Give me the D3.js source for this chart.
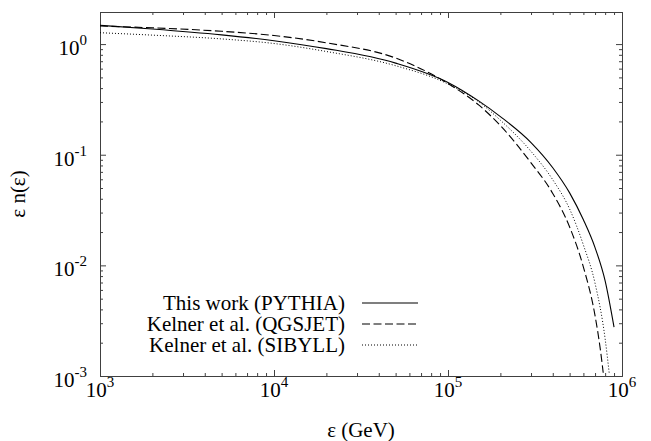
<!DOCTYPE html>
<html><head><meta charset="utf-8">
<script src="https://cdn.jsdelivr.net/npm/d3@7"></script>
<style>
body{margin:0;background:#fff;}
</style></head>
<body>
<svg id="chart" width="651" height="441" font-family="'Liberation Serif','Times New Roman',serif"></svg>
<script>
// Data
const energyPythia = [1e3, 2e3, 5e3, 1e4, 2e4, 5e4, 1e5, 1.5e5, 2e5, 3e5, 4e5, 5e5, 6e5, 7e5, 8e5, 9e5];
const valuesPythia = [1.478, 1.369, 1.211, 1.073, 0.910, 0.673, 0.450, 0.3065, 0.2211, 0.1287, 0.0763, 0.0452, 0.0258, 0.01447, 0.00724, 0.00276];
const energyQgsjet = [1e3, 2e3, 5e3, 1e4, 2e4, 5e4, 1e5, 1.5e5, 2e5, 3e5, 4e5, 5e5, 6e5, 7e5, 7.5e5, 7.8e5];
const valuesQgsjet = [1.457, 1.403, 1.305, 1.195, 1.027, 0.748, 0.440, 0.282, 0.1833, 0.0844, 0.0447, 0.0222, 0.00966, 0.00351, 0.00176, 0.00107];
const energySibyll = [1e3, 2e3, 5e3, 1e4, 2e4, 5e4, 1e5, 1.5e5, 2e5, 3e5, 4e5, 5e5, 6e5, 7e5, 8e5, 8.45e5];
const valuesSibyll = [1.267, 1.205, 1.114, 1.012, 0.857, 0.6376, 0.4357, 0.3014, 0.2051, 0.1072, 0.0594, 0.0323, 0.01528, 0.00689, 0.002165, 0.00105];
const seriesNames = ["This work (PYTHIA)", "Kelner et al. (QGSJET)", "Kelner et al. (SIBYLL)"];
const xMajorExps = [3, 4, 5, 6];
const yMajorExps = [0, -1, -2, -3];

const svg = d3.select("#chart");
const L = 100, R = 622, T = 12, B = 376;
const x = d3.scaleLog().domain([1e3, 1e6]).range([L, R]);
const y = d3.scaleLog().domain([1e-3, 1.95]).range([B, T]);
const frameColor = "#404040";
const FONT = "'Liberation Serif','Times New Roman',serif";

function minorTicks(scale) {
  return scale.ticks().filter(v => Math.abs(Math.log10(v) - Math.round(Math.log10(v))) > 1e-6);
}
const xMaj = xMajorExps.map(e => Math.pow(10, e));
const yMaj = yMajorExps.map(e => Math.pow(10, e));
function drawAxis(axisFn, scale, values, size, tx, ty) {
  const g = svg.append("g").attr("transform", `translate(${tx},${ty})`)
    .call(axisFn(scale).tickValues(values).tickSize(size).tickSizeOuter(0).tickFormat(""));
  g.select(".domain").attr("stroke", frameColor);
  g.selectAll(".tick line").attr("stroke", frameColor);
  return g;
}
drawAxis(d3.axisBottom, x, xMaj, -6, 0, B);
drawAxis(d3.axisBottom, x, minorTicks(x), -3, 0, B);
drawAxis(d3.axisTop, x, xMaj, -6, 0, T);
drawAxis(d3.axisTop, x, minorTicks(x), -3, 0, T);
drawAxis(d3.axisLeft, y, yMaj, -6, L, 0);
drawAxis(d3.axisLeft, y, minorTicks(y), -3, L, 0);
drawAxis(d3.axisRight, y, yMaj, -6, R, 0);
drawAxis(d3.axisRight, y, minorTicks(y), -3, R, 0);

// Tick labels
const fs = 21, sfs = 15;
xMajorExps.forEach(e => {
  const t = svg.append("text").attr("x", x(Math.pow(10, e))).attr("y", 397)
    .attr("text-anchor", "middle").attr("font-family", FONT).style("font-size", fs + "px");
  t.append("tspan").text("10");
  t.append("tspan").attr("dy", -10).style("font-size", sfs + "px").text(String(e));
});
yMajorExps.forEach(e => {
  const t = svg.append("text").attr("x", 87).attr("y", y(Math.pow(10, e)) + 11)
    .attr("text-anchor", "end").attr("font-family", FONT).style("font-size", fs + "px");
  t.append("tspan").text("10");
  t.append("tspan").attr("dy", -10).style("font-size", sfs + "px").text(String(e));
});

// Axis titles
svg.append("text").attr("x", 361).attr("y", 437).attr("text-anchor", "middle")
  .attr("font-family", FONT).style("font-size", "21px").text("ε (GeV)");
svg.append("text").attr("transform", `translate(25,${(T + B) / 2}) rotate(-90)`)
  .attr("text-anchor", "middle").attr("font-family", FONT).style("font-size", "21px").text("ε n(ε)");

// Curves
const line = d3.line().x(d => x(d[0])).y(d => y(d[1])).curve(d3.curveMonotoneX);
const series = [
  {e: energyPythia, v: valuesPythia, dash: null, w: 1.1},
  {e: energyQgsjet, v: valuesQgsjet, dash: "8,3.5", w: 1.1},
  {e: energySibyll, v: valuesSibyll, dash: "1,2", w: 1}
];
series.forEach(s => {
  svg.append("path").datum(s.e.map((e, i) => [e, s.v[i]]))
    .attr("d", line).attr("fill", "none").attr("stroke", "#000")
    .attr("stroke-width", s.w).attr("stroke-dasharray", s.dash);
});

// Legend
const legY = [303, 324, 345];
seriesNames.forEach((n, i) => {
  svg.append("text").attr("x", 345).attr("y", legY[i] + 7).attr("text-anchor", "end")
    .attr("font-family", FONT).style("font-size", "21px").text(n);
  svg.append("line").attr("x1", 362).attr("x2", 418).attr("y1", legY[i]).attr("y2", legY[i])
    .attr("stroke", "#000").attr("stroke-width", series[i].w)
    .attr("stroke-dasharray", series[i].dash);
});
</script>
</body></html>
